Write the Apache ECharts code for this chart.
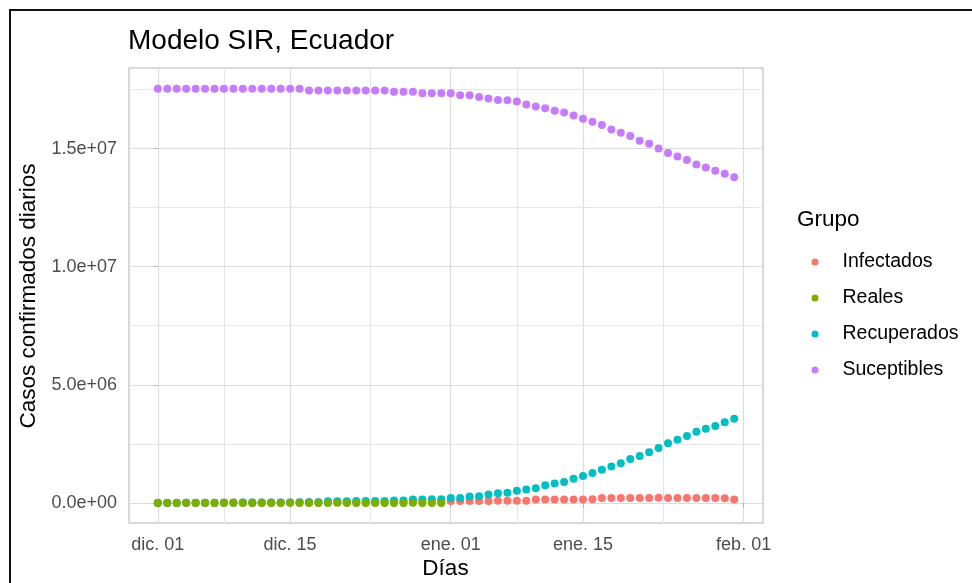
<!DOCTYPE html>
<html>
<head>
<meta charset="utf-8">
<script src="https://cdn.jsdelivr.net/npm/echarts@6/dist/echarts.min.js"></script>
<style>html,body{margin:0;padding:0;background:#fff}#c{width:972px;height:583px}</style>
</head>
<body>
<div id="c"></div>
<script>
// x = days since 2020-12-01
const tickDays = [0, 14, 31, 45, 62];
const tickLabels = ['dic. 01', 'dic. 15', 'ene. 01', 'ene. 15', 'feb. 01'];
const minorDays = [7, 22.5, 38, 53.5];
const yTicks = [0, 5e6, 1e7, 1.5e7];
const yMinor = [2.5e6, 7.5e6, 1.25e7, 1.75e7];
const groups = ['Infectados', 'Reales', 'Recuperados', 'Suceptibles'];
const colors = ['#F8766D', '#7CAE00', '#00BFC4', '#C77CFF'];

// values (millions), one per day starting dic. 01
const suceptibles = [
  17.53,17.53,17.53,17.53,17.53,17.53,17.53,17.53,17.53,17.53,17.53,17.53,17.53,17.53,17.53,17.53,
  17.46,17.46,17.46,17.46,17.46,17.46,17.46,17.46,17.46,
  17.40,17.40,17.40,
  17.34,17.34,17.34,17.34,
  17.26,17.26,17.18,17.12,17.06,17.05,16.99,16.86,16.78,16.71,16.60,16.53,16.40,16.26,16.13,16.00,
  15.81,15.67,15.53,15.33,15.20,15.00,14.81,14.66,14.52,14.32,14.20,14.06,13.93,13.79
];
const recuperados = [
  0.00,0.00,0.00,0.01,0.01,0.01,0.01,0.01,0.01,0.02,0.02,0.02,0.02,0.02,0.02,0.03,0.03,0.03,
  0.07,0.07,0.07,0.08,0.08,0.08,0.08,0.10,0.10,0.15,0.15,0.16,0.16,
  0.21,0.21,0.27,0.28,0.36,0.41,0.43,0.51,0.57,0.62,0.75,0.82,0.89,1.02,1.14,1.27,1.40,1.54,1.68,
  1.86,1.99,2.14,2.33,2.53,2.67,2.83,3.01,3.14,3.26,3.41,3.56
];
const infectados = [
  0.01,0.01,0.01,0.01,0.01,0.01,0.01,0.02,0.02,0.02,0.02,0.02,0.02,0.02,0.02,0.02,0.03,0.03,
  0.03,0.03,0.03,0.03,0.03,0.04,0.04,0.04,0.04,0.05,0.05,0.05,0.06,
  0.08,0.08,0.08,0.08,0.08,0.09,0.09,0.09,0.09,0.15,0.15,0.15,0.15,0.15,0.15,0.16,
  0.21,0.21,0.21,0.21,0.21,0.21,0.22,0.21,0.21,0.21,0.21,0.21,0.21,0.20,0.15
];
const reales = [
  0.001,0.001,0.001,0.002,0.001,0.001,0.001,0.001,0.002,0.001,0.001,0.001,0.001,0.001,0.002,0.001,
  0.001,0.001,0.001,0.002,0.001,0.001,0.001,0.001,0.001,0.001,0.001,0.002,0.001,0.001,0.001
];

const FONT = '"Liberation Sans", Arial, sans-serif';
const toPts = arr => arr.map((v, i) => [i, v * 1e6]);
function sci(v) {
  if (v === 0) return '0.0e+00';
  const parts = v.toExponential(1).split('e');
  const sign = parts[1][0] === '-' ? '-' : '+';
  let d = parts[1].replace(/[+-]/, '');
  if (d.length < 2) d = '0' + d;
  return parts[0] + 'e' + sign + d;
}
const major = { color: '#dcdcdc', width: 1.2, type: 'solid' };
const minor = { color: '#e6e6e6', width: 1, type: 'solid' };
const gridLines = [];
tickDays.forEach(d => gridLines.push({ xAxis: d, lineStyle: major }));
minorDays.forEach(d => gridLines.push({ xAxis: d, lineStyle: minor }));
yTicks.forEach(v => gridLines.push({ yAxis: v, lineStyle: major }));
yMinor.forEach(v => gridLines.push({ yAxis: v, lineStyle: minor }));

const dataSets = [infectados, reales, recuperados, suceptibles];
const zs = [2, 5, 3, 3];
const scatterSeries = groups.map((g, i) => ({
  name: g, type: 'scatter', data: toPts(dataSets[i]), symbol: 'circle', symbolSize: 8,
  itemStyle: { color: colors[i], opacity: 1 }, z: zs[i], animation: false
}));

const chart = echarts.init(document.getElementById('c'), null, { renderer: 'canvas' });
chart.setOption({
  backgroundColor: '#fff',
  animation: false,
  grid: { left: 129, right: 209, top: 68, bottom: 60, show: true, borderColor: '#b3b3b3', borderWidth: 1, backgroundColor: '#fff' },
  xAxis: {
    type: 'value', min: -3.05, max: 64.05,
    axisLine: { show: false },
    splitLine: { show: false },
    axisTick: { show: true, customValues: tickDays, length: 5, lineStyle: { color: '#b3b3b3' } },
    axisLabel: { show: true, customValues: tickDays, margin: 22, verticalAlign: 'middle', fontSize: 18, color: '#4d4d4d', fontFamily: FONT,
      formatter: v => { const k = tickDays.indexOf(v); return k >= 0 ? tickLabels[k] : ''; } }
  },
  yAxis: {
    type: 'value', min: -0.85e6, max: 18.41e6,
    axisLine: { show: false },
    splitLine: { show: false },
    axisTick: { show: true, customValues: yTicks, length: 5, lineStyle: { color: '#b3b3b3' } },
    axisLabel: { show: true, customValues: yTicks, margin: 12, fontSize: 18, color: '#4d4d4d', fontFamily: FONT, formatter: v => sci(v) }
  },
  legend: {
    data: groups, orient: 'vertical', left: 811.5, top: 252, padding: 0, icon: 'circle', itemWidth: 7, itemHeight: 7, itemGap: 16,
    textStyle: { fontSize: 19.5, color: '#000', fontFamily: FONT, lineHeight: 20, padding: [0, 0, 0, 19] }
  },
  series: [{
    name: '_grid', type: 'line', data: [], z: 0, silent: true,
    markLine: { silent: true, z: 0, symbol: ['none', 'none'], animation: false, label: { show: false }, lineStyle: major, data: gridLines }
  }].concat(scatterSeries),
  graphic: [
    { type: 'rect', shape: { x: 10, y: 10, width: 1200, height: 1000 }, style: { fill: 'none', stroke: '#111', lineWidth: 2 }, z: 100 },
    { type: 'text', x: 128, y: 41, style: { text: 'Modelo SIR, Ecuador', fontSize: 28, fontFamily: FONT, fill: '#000', align: 'left', verticalAlign: 'middle' } },
    { type: 'text', x: 445.5, y: 569, style: { text: 'Días', fontSize: 22.5, fontFamily: FONT, fill: '#000', align: 'center', verticalAlign: 'middle' } },
    { type: 'text', x: 29, y: 296, rotation: Math.PI / 2, style: { text: 'Casos confirmados diarios', fontSize: 22.5, fontFamily: FONT, fill: '#000', align: 'center', verticalAlign: 'middle' } },
    { type: 'text', x: 797, y: 220, style: { text: 'Grupo', fontSize: 22.5, fontFamily: FONT, fill: '#000', align: 'left', verticalAlign: 'middle' } }
  ]
});
</script>
</body>
</html>
